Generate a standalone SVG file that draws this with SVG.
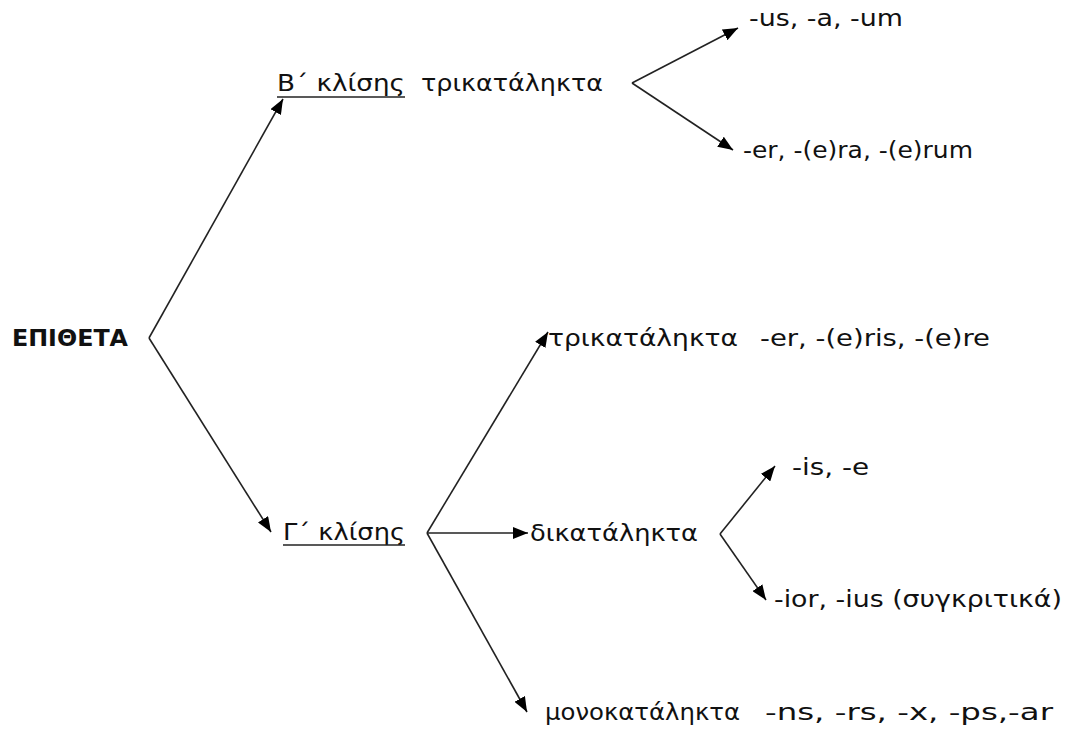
<svg xmlns="http://www.w3.org/2000/svg" width="1070" height="740" viewBox="0 0 1070 740">
<defs>
<marker id="ah" markerUnits="userSpaceOnUse" markerWidth="16" markerHeight="12" refX="15" refY="6" orient="auto">
<path d="M0,0 L15,6 L0,12 Z" fill="#000"/>
</marker>
<style>
text{font-family:"DejaVu Sans","Liberation Sans",sans-serif;font-size:23px;fill:#111}
.b{font-weight:bold}
.c{stroke:#222;stroke-width:1.6;fill:none}
.u{stroke:#222;stroke-width:1.5}
</style>
</defs>
<rect width="1070" height="740" fill="#fff"/>
<g id="connectors">
<polyline class="c" points="149,338 283,99" marker-end="url(#ah)"/>
<polyline class="c" points="149,338 271,532" marker-end="url(#ah)"/>
<polyline class="c" points="632,83 738,28" marker-end="url(#ah)"/>
<polyline class="c" points="632,83 733,150" marker-end="url(#ah)"/>
<polyline class="c" points="427,533 548,332" marker-end="url(#ah)"/>
<polyline class="c" points="427,533 528,533" marker-end="url(#ah)"/>
<polyline class="c" points="427,533 527,712" marker-end="url(#ah)"/>
<polyline class="c" points="720,534 775,466" marker-end="url(#ah)"/>
<polyline class="c" points="720,534 766,600" marker-end="url(#ah)"/>
</g>
<g id="root"><text class="b" x="12" y="346" textLength="116" lengthAdjust="spacingAndGlyphs">ΕΠΙΘΕΤΑ</text></g>
<g id="b-klisis">
<text x="277" y="91" textLength="128" lengthAdjust="spacingAndGlyphs">Β΄ κλίσης</text>
<line class="u" x1="277" y1="97" x2="405" y2="97"/>
<text x="421" y="91" textLength="182" lengthAdjust="spacingAndGlyphs">τρικατάληκτα</text>
</g>
<g id="us"><text x="749" y="26" textLength="154" lengthAdjust="spacingAndGlyphs">-us, -a, -um</text></g>
<g id="er"><text x="743" y="158" textLength="230" lengthAdjust="spacingAndGlyphs">-er, -(e)ra, -(e)rum</text></g>
<g id="g-klisis">
<text x="283" y="540" textLength="122" lengthAdjust="spacingAndGlyphs">Γ΄ κλίσης</text>
<line class="u" x1="283" y1="545" x2="405" y2="545"/>
</g>
<g id="trikat">
<text x="548" y="346" textLength="190" lengthAdjust="spacingAndGlyphs">τρικατάληκτα</text>
<text x="760" y="346" textLength="230" lengthAdjust="spacingAndGlyphs">-er, -(e)ris, -(e)re</text>
</g>
<g id="dikat"><text x="530" y="541" textLength="168" lengthAdjust="spacingAndGlyphs">δικατάληκτα</text></g>
<g id="is"><text x="792" y="475" textLength="77" lengthAdjust="spacingAndGlyphs">-is, -e</text></g>
<g id="ior"><text x="774" y="607" textLength="288" lengthAdjust="spacingAndGlyphs">-ior, -ius (συγκριτικά)</text></g>
<g id="monokat">
<text x="545" y="720" textLength="195" lengthAdjust="spacingAndGlyphs">μονοκατάληκτα</text>
<text x="765" y="720" textLength="288" lengthAdjust="spacingAndGlyphs">-ns, -rs, -x, -ps,-ar</text>
</g>
</svg>
